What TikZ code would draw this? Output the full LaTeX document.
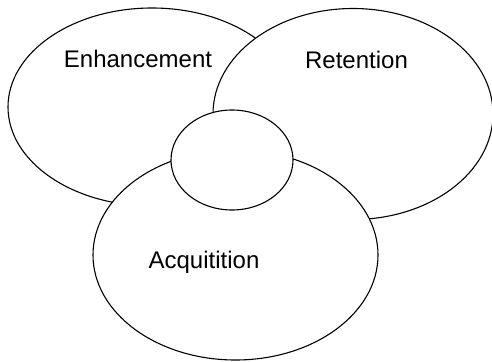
\documentclass[tikz,border=0pt]{standalone}
\usepackage{fontspec}
\setmainfont{Liberation Sans}
\usepackage{xcolor}

\begin{document}
\begin{tikzpicture}[x=1pt, y=-1pt,
  region/.style={draw=black, fill=white, line width=1.1pt},
  label/.style={anchor=base, font=\fontsize{24}{28}\selectfont}]
  % Fix the page size
  \useasboundingbox (0,0) rectangle (492,361);
  
  % Draw the overlapping regions, back to front
  \filldraw[region] (152,107) ellipse [x radius=144, y radius=99];
  \filldraw[region] (353,114) ellipse [x radius=140, y radius=105.5];
  \filldraw[region] (235.5,255) ellipse [x radius=142.5, y radius=105];
  \filldraw[region] (232,160) ellipse [x radius=61, y radius=50];
  
  \node[label] (enh) at (138,67) {Enhancement};
  \node[label] (ret) at (356.5,68) {Retention};
  \node[label] (acq) at (204,268) {Acquitition};
\end{tikzpicture}
\end{document}
